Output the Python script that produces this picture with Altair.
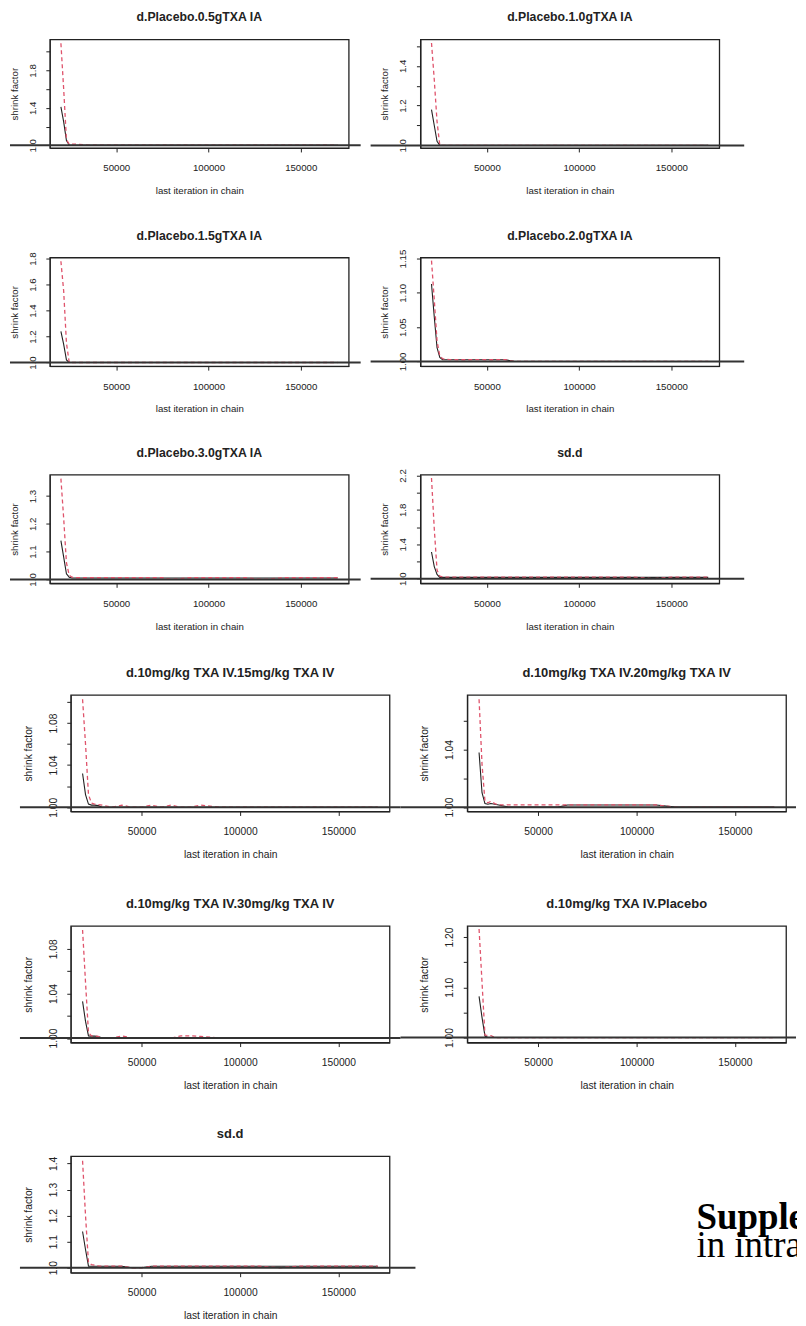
import json
import altair as alt
import pandas as pd

# ---------------- data ----------------
ITER = [20000, 21500, 23000, 24500, 26000, 28000, 30000, 35000, 40000, 45000,
        50000, 55000, 60000, 65000, 70000, 75000, 80000, 90000, 100000, 110000,
        120000, 130000, 140000, 150000, 160000, 170000]

X_DOMAIN = [14000, 176000]
X_TICKS = [50000, 100000, 150000]

TITLES = [
    "d.Placebo.0.5gTXA IA", "d.Placebo.1.0gTXA IA",
    "d.Placebo.1.5gTXA IA", "d.Placebo.2.0gTXA IA",
    "d.Placebo.3.0gTXA IA", "sd.d",
    "d.10mg/kg TXA IV.15mg/kg TXA IV", "d.10mg/kg TXA IV.20mg/kg TXA IV",
    "d.10mg/kg TXA IV.30mg/kg TXA IV", "d.10mg/kg TXA IV.Placebo",
    "sd.d",
]

p1_median = [1.41, 1.25, 1.05, 1.003, 1.0, 1.0, 1.0, 1.0, 1.0, 1.0, 1.0, 1.0, 1.0,
             1.0, 1.0, 1.0, 1.0, 1.0, 1.0, 1.0, 1.0, 1.0, 1.0, 1.0, 1.0, 1.0]
p1_upper = [2.09, 1.60, 1.06, 1.012, 1.012, 1.012, 1.010, 1.0, 1.0, 1.0, 1.0, 1.0, 1.0,
            1.0, 1.0, 1.0, 1.0, 1.0, 1.0, 1.0, 1.0, 1.0, 1.0, 1.0, 1.0, 1.0]

p2_median = [1.18, 1.10, 1.02, 1.0, 1.0, 1.0, 1.0, 1.0, 1.0, 1.0, 1.0, 1.0, 1.0,
             1.0, 1.0, 1.0, 1.0, 1.0, 1.0, 1.0, 1.0, 1.0, 1.0, 1.0, 1.0, 1.0]
p2_upper = [1.515, 1.33, 1.12, 1.0, 1.0, 1.0, 1.0, 1.0, 1.0, 1.0, 1.0, 1.0, 1.0,
            1.0, 1.0, 1.0, 1.0, 1.0, 1.0, 1.0, 1.0, 1.0, 1.0, 1.0, 1.0, 1.0]

p3_median = [1.24, 1.14, 1.02, 1.0, 1.0, 1.0, 1.0, 1.0, 1.0, 1.0, 1.0, 1.0, 1.0,
             1.0, 1.0, 1.0, 1.0, 1.0, 1.0, 1.0, 1.0, 1.0, 1.0, 1.0, 1.0, 1.0]
p3_upper = [1.78, 1.55, 1.15, 1.0, 1.0, 1.0, 1.0, 1.0, 1.0, 1.0, 1.0, 1.0, 1.0,
            1.0, 1.0, 1.0, 1.0, 1.0, 1.0, 1.0, 1.0, 1.0, 1.0, 1.0, 1.0, 1.0]

p4_median = [1.113, 1.065, 1.02, 1.006, 1.0025, 1.0025, 1.0025, 1.0025, 1.0025, 1.0025,
             1.0025, 1.0025, 1.0025, 1.0, 1.0, 1.0, 1.0, 1.0, 1.0, 1.0, 1.0, 1.0, 1.0,
             1.0, 1.0, 1.0]
p4_upper = [1.147, 1.09, 1.03, 1.008, 1.004, 1.003, 1.0028, 1.0025, 1.0025, 1.0028,
            1.0025, 1.0025, 1.0028, 1.0, 1.0, 1.0, 1.0, 1.0, 1.0, 1.0, 1.0, 1.0, 1.0,
            1.0, 1.0, 1.0]

p5_median = [1.14, 1.08, 1.02, 1.008, 1.005, 1.005, 1.005, 1.005, 1.005, 1.005, 1.005,
             1.005, 1.005, 1.005, 1.005, 1.005, 1.005, 1.005, 1.005, 1.005, 1.005,
             1.005, 1.005, 1.005, 1.005, 1.005]
p5_upper = [1.363, 1.22, 1.06, 1.015, 1.008, 1.006, 1.006, 1.006, 1.006, 1.006, 1.006,
            1.006, 1.006, 1.006, 1.006, 1.006, 1.0, 1.006, 1.006, 1.006, 1.006, 1.0,
            1.006, 1.006, 1.006, 1.006]

p6_median = [1.31, 1.14, 1.05, 1.015, 1.015, 1.015, 1.015, 1.015, 1.015, 1.015, 1.015,
             1.015, 1.015, 1.015, 1.015, 1.015, 1.015, 1.015, 1.015, 1.015, 1.015,
             1.015, 1.015, 1.015, 1.015, 1.015]
p6_upper = [2.17, 1.58, 1.10, 1.03, 1.02, 1.018, 1.018, 1.018, 1.018, 1.018, 1.018,
            1.018, 1.018, 1.018, 1.018, 1.018, 1.018, 1.018, 1.018, 1.018, 1.018,
            1.018, 1.0, 1.018, 1.018, 1.018]

p7_median = [1.032, 1.012, 1.003, 1.002, 1.002, 1.0015, 1.0, 1.0, 1.0, 1.0, 1.0, 1.0,
             1.0, 1.0, 1.0, 1.0, 1.0, 1.0, 1.0, 1.0, 1.0, 1.0, 1.0, 1.0, 1.0, 1.0]
p7_upper = [1.1025, 1.06, 1.012, 1.004, 1.003, 1.0025, 1.002, 1.0, 1.002, 1.0, 1.0,
            1.002, 1.0, 1.002, 1.0, 1.0, 1.002, 1.0, 1.0, 1.0, 1.0, 1.0, 1.0, 1.0,
            1.0, 1.0]

p8_median = [1.038, 1.01, 1.0025, 1.002, 1.0025, 1.002, 1.0015, 1.0, 1.0, 1.0, 1.0,
             1.0, 1.0, 1.0015, 1.0015, 1.0015, 1.0015, 1.0015, 1.0015, 1.0015, 1.0,
             1.0, 1.0, 1.0, 1.0, 1.0]
p8_upper = [1.075, 1.03, 1.004, 1.003, 1.004, 1.0025, 1.0015, 1.0015, 1.0015, 1.0015,
            1.0015, 1.0015, 1.0015, 1.0015, 1.0015, 1.0015, 1.0015, 1.0015, 1.0015,
            1.0015, 1.0, 1.0, 1.0, 1.0, 1.0, 1.0]

p9_median = [1.033, 1.015, 1.002, 1.0018, 1.0018, 1.0015, 1.0, 1.0, 1.0, 1.0, 1.0, 1.0,
             1.0, 1.0, 1.0, 1.0, 1.0, 1.0, 1.0, 1.0, 1.0, 1.0, 1.0, 1.0, 1.0, 1.0]
p9_upper = [1.097, 1.05, 1.005, 1.002, 1.002, 1.0015, 1.0, 1.0, 1.002, 1.0, 1.0, 1.0,
            1.0, 1.0, 1.002, 1.002, 1.0015, 1.0, 1.0, 1.0, 1.0, 1.0, 1.0, 1.0, 1.0, 1.0]

p10_median = [1.082, 1.04, 1.003, 1.0, 1.0, 1.0, 1.0, 1.0, 1.0, 1.0, 1.0, 1.0, 1.0,
              1.0, 1.0, 1.0, 1.0, 1.0, 1.0, 1.0, 1.0, 1.0, 1.0, 1.0, 1.0, 1.0]
p10_upper = [1.216, 1.11, 1.005, 1.004, 1.004, 1.0, 1.0, 1.0, 1.0, 1.0, 1.0, 1.0, 1.0,
             1.0, 1.0, 1.0, 1.0, 1.0, 1.0, 1.0, 1.0, 1.0, 1.0, 1.0, 1.0, 1.0]

p11_median = [1.139, 1.07, 1.006, 1.006, 1.006, 1.006, 1.006, 1.006, 1.006, 1.0, 1.0,
              1.006, 1.006, 1.006, 1.006, 1.006, 1.006, 1.006, 1.006, 1.006, 1.006,
              1.006, 1.006, 1.006, 1.006, 1.006]
p11_upper = [1.41, 1.20, 1.02, 1.012, 1.01, 1.007, 1.006, 1.006, 1.006, 1.0, 1.0,
             1.006, 1.006, 1.006, 1.006, 1.006, 1.006, 1.006, 1.006, 1.006, 1.0,
             1.006, 1.006, 1.006, 1.006, 1.006]

MEDIANS = [p1_median, p2_median, p3_median, p4_median, p5_median, p6_median,
           p7_median, p8_median, p9_median, p10_median, p11_median]
UPPERS = [p1_upper, p2_upper, p3_upper, p4_upper, p5_upper, p6_upper,
          p7_upper, p8_upper, p9_upper, p10_upper, p11_upper]

Y_DOMAINS = [[0.971, 2.132], [0.987, 1.533], [0.972, 1.808], [0.9932, 1.1515],
             [0.986, 1.377], [0.946, 2.208], [0.996, 1.1067], [0.997, 1.078],
             [0.996, 1.1005], [0.990, 1.222], [0.981, 1.428]]
Y_TICKS = [[1.0, 1.2, 1.4, 1.6, 1.8, 2.0], [1.0, 1.1, 1.2, 1.3, 1.4, 1.5],
           [1.0, 1.2, 1.4, 1.6, 1.8], [1.0, 1.05, 1.1, 1.15],
           [1.0, 1.1, 1.2, 1.3], [1.0, 1.2, 1.4, 1.6, 1.8, 2.0, 2.2],
           [1.0, 1.02, 1.04, 1.06, 1.08, 1.1], [1.0, 1.02, 1.04, 1.06],
           [1.0, 1.02, 1.04, 1.06, 1.08], [1.0, 1.05, 1.1, 1.15, 1.2],
           [1.0, 1.1, 1.2, 1.3, 1.4]]
Y_LABELED = [[1.0, 1.4, 1.8], [1.0, 1.2, 1.4], [1.0, 1.2, 1.4, 1.6, 1.8],
             [1.0, 1.05, 1.1, 1.15], [1.0, 1.1, 1.2, 1.3], [1.0, 1.4, 1.8, 2.2],
             [1.0, 1.04, 1.08], [1.0, 1.04], [1.0, 1.04, 1.08], [1.0, 1.1, 1.2],
             [1.0, 1.1, 1.2, 1.3, 1.4]]
Y_FORMATS = [".1f", ".1f", ".1f", ".2f", ".1f", ".1f", ".2f", ".2f", ".2f", ".2f", ".1f"]

SUPP_LINES = ["Supplementary Figure", "in intra-articular"]

# ---------------- styling ----------------
FONT = "Liberation Sans"
SERIF = "Liberation Serif"
INK = "#222222"
RED = "#DF536B"


def make_panel(i, w, h, fs, tfs, ytitle_x, rule_left, rule_right):
    med = pd.DataFrame({"iter": ITER, "value": MEDIANS[i]})
    upp = pd.DataFrame({"iter": ITER, "value": UPPERS[i]})
    expr = ("indexof(%s, datum.value) >= 0 ? format(datum.value, '%s') : ''"
            % (json.dumps(Y_LABELED[i]), Y_FORMATS[i]))
    x_enc = alt.X(
        "iter:Q",
        scale=alt.Scale(domain=X_DOMAIN, nice=False, zero=False),
        axis=alt.Axis(values=X_TICKS, format="d", title="last iteration in chain",
                      grid=False, tickSize=4, labelPadding=11, labelFontSize=fs,
                      labelFont=FONT, labelColor=INK, titleFont=FONT, titleFontSize=fs,
                      titleFontWeight="normal", titleColor=INK, titleY=46,
                      titleBaseline="alphabetic", labelFlush=False, labelOverlap=False,
                      tickColor=INK, domainColor=INK),
    )
    y_enc = alt.Y(
        "value:Q",
        scale=alt.Scale(domain=Y_DOMAINS[i], nice=False, zero=False),
        axis=alt.Axis(values=Y_TICKS[i], labelExpr=expr, title="shrink factor",
                      grid=False, tickSize=4, labelPadding=8.5, labelAngle=270,
                      labelAlign="center", labelBaseline="bottom", labelFontSize=fs,
                      labelFont=FONT, labelColor=INK, titleFont=FONT, titleFontSize=fs,
                      titleFontWeight="normal", titleColor=INK, titleX=ytitle_x,
                      titleBaseline="alphabetic", labelFlush=False, labelOverlap=False,
                      tickColor=INK, domainColor=INK),
    )
    black = alt.Chart(med).mark_line(color=INK, strokeWidth=1.1, clip=True).encode(
        x=x_enc, y=y_enc)
    red = alt.Chart(upp).mark_line(color=RED, strokeWidth=1.3, strokeDash=[4, 3],
                                   clip=True).encode(x=x_enc, y=y_enc)
    hline = alt.Chart(pd.DataFrame({"value": [1.0]})).mark_rule(
        color="#333333", strokeWidth=2).encode(
        y=y_enc, x=alt.value(rule_left), x2=alt.value(w + rule_right))
    ttl = alt.Chart(pd.DataFrame({"t": [TITLES[i]]})).mark_text(
        font=FONT, fontWeight="bold", fontSize=tfs, color=INK,
        align="center", baseline="middle").encode(
        text="t:N", x=alt.value(w / 2), y=alt.value(-22))
    return alt.layer(black, red, hline, ttl).properties(
        width=w, height=h,
        view=alt.ViewBackground(stroke=INK, strokeWidth=1.3))


def spacer(w, h):
    return alt.Chart(pd.DataFrame({"a": [0]})).mark_point(opacity=0, size=1).encode(
        x=alt.value(0), y=alt.value(0)).properties(width=w, height=h)


W1, H1 = 300, 109
W2, H2 = 320, 117

p = []
for i in range(6):
    left = i % 2 == 0
    p.append(make_panel(i, W1, H1, 9.7, 12.3, -32.6,
                        -40 if left else -50, 12 if left else 25))
for i in range(6, 11):
    left = i % 2 == 0
    right = 11 if left else 10
    if i == 10:
        right = 26
    p.append(make_panel(i, W2, H2, 10.3, 13, -39.6, -51 if left else -67, right))

text_panel = alt.layer(
    alt.Chart(pd.DataFrame({"t": [SUPP_LINES[0]]})).mark_text(
        font=SERIF, fontWeight="bold", fontSize=37, color="#000000",
        align="left", baseline="alphabetic", clip=True).encode(
        text="t:N", x=alt.value(230), y=alt.value(73)),
    alt.Chart(pd.DataFrame({"t": [SUPP_LINES[1]]})).mark_text(
        font=SERIF, fontSize=37, color="#000000",
        align="left", baseline="alphabetic", clip=True).encode(
        text="t:N", x=alt.value(230), y=alt.value(101)),
).properties(width=331, height=H2)

# each row is a nested group; with flush bounds a nested group counts as zero
# size, so the vertical spacers below set the distance between row tops.
row1 = alt.hconcat(p[0], p[1], spacing=72, bounds="flush")
row2 = alt.hconcat(p[2], p[3], spacing=72, bounds="flush")
row3 = alt.hconcat(p[4], p[5], spacing=72, bounds="flush")
row4 = alt.hconcat(spacer(21, H2), alt.hconcat(p[6], p[7], spacing=78, bounds="flush"),
                   spacing=0, bounds="flush")
row5 = alt.hconcat(spacer(21, H2), alt.hconcat(p[8], p[9], spacing=78, bounds="flush"),
                   spacing=0, bounds="flush")
row6 = alt.hconcat(spacer(21, H2), alt.hconcat(p[10], text_panel, spacing=78, bounds="flush"),
                   spacing=0, bounds="flush")

chart = alt.vconcat(
    row1, spacer(1, 219), row2, spacer(1, 218), row3, spacer(1, 221),
    row4, spacer(1, 232), row5, spacer(1, 231), row6,
    spacing=0, bounds="flush",
).properties(
    padding={"left": 0, "top": 0, "right": 0, "bottom": 0},
    background="white",
).configure_view(strokeWidth=0)

chart.save("out.html", embed_options={"renderer": "svg", "actions": False})
